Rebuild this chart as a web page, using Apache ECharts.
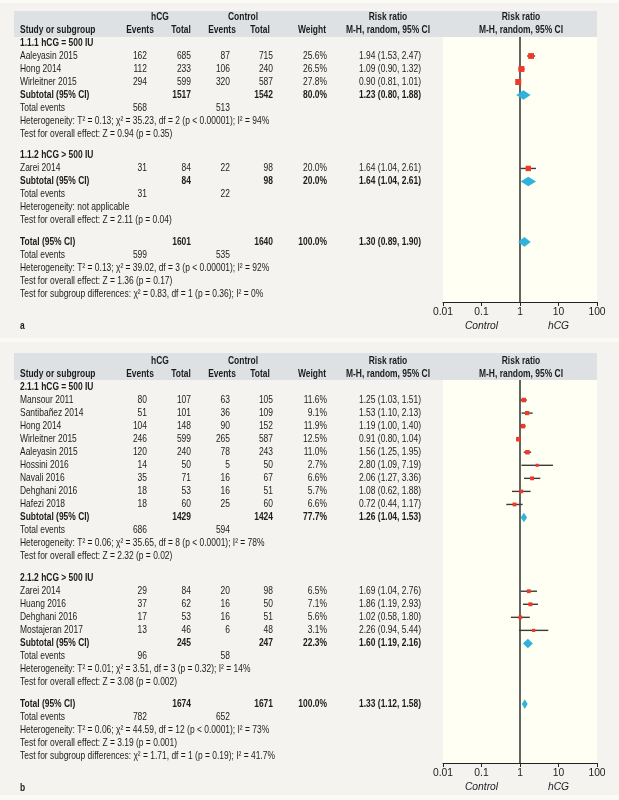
<!DOCTYPE html>
<html>
<head>
<meta charset="utf-8">
<script src="https://cdn.jsdelivr.net/npm/echarts@6/dist/echarts.min.js"></script>
<style>
html,body{margin:0;padding:0;background:#fbfbf6;}
#chart{width:619px;height:800px;}
</style>
</head>
<body>
<div id="chart"></div>
<script>
// ---------------- Panel a data ----------------
const aSubgroups = ['1.1.1 hCG = 500 IU', '1.1.2 hCG > 500 IU'];
const aStudies = ['Aaleyasin 2015', 'Hong 2014', 'Wirleitner 2015', 'Zarei 2014'];
const aStudyGroup = [0, 0, 0, 1];
const aHcgEvents = [162, 112, 294, 31];
const aHcgTotal = [685, 233, 599, 84];
const aCtlEvents = [87, 106, 320, 22];
const aCtlTotal = [715, 240, 587, 98];
const aWeight = [25.6, 26.5, 27.8, 20.0];
const aRR = [1.94, 1.09, 0.90, 1.64];
const aLower = [1.53, 0.90, 0.81, 1.04];
const aUpper = [2.47, 1.32, 1.01, 2.61];
const aSubHcgTotal = [1517, 84];
const aSubCtlTotal = [1542, 98];
const aSubHcgEvents = [568, 31];
const aSubCtlEvents = [513, 22];
const aSubWeight = [80.0, 20.0];
const aSubRR = [1.23, 1.64];
const aSubLower = [0.80, 1.04];
const aSubUpper = [1.88, 2.61];
const aSubHet = ['Heterogeneity: T² = 0.13; χ² = 35.23, df = 2 (p < 0.00001); I² = 94%', 'Heterogeneity: not applicable'];
const aSubTest = ['Test for overall effect: Z = 0.94 (p = 0.35)', 'Test for overall effect: Z = 2.11 (p = 0.04)'];
const aTotalN = [1601, 1640];
const aTotalEvents = [599, 535];
const aTotalWeight = 100.0;
const aTotalRR = [1.30, 0.89, 1.90];
const aTotalNotes = ['Heterogeneity: T² = 0.13; χ² = 39.02, df = 3 (p < 0.00001); I² = 92%', 'Test for overall effect: Z = 1.36 (p = 0.17)', 'Test for subgroup differences: χ² = 0.83, df = 1 (p = 0.36); I² = 0%'];

// ---------------- Panel b data ----------------
const bSubgroups = ['2.1.1 hCG = 500 IU', '2.1.2 hCG > 500 IU'];
const bStudies = ['Mansour 2011', 'Santibañez 2014', 'Hong 2014', 'Wirleitner 2015', 'Aaleyasin 2015', 'Hossini 2016', 'Navali 2016', 'Dehghani 2016', 'Hafezi 2018', 'Zarei 2014', 'Huang 2016', 'Dehghani 2016', 'Mostajeran 2017'];
const bStudyGroup = [0, 0, 0, 0, 0, 0, 0, 0, 0, 1, 1, 1, 1];
const bHcgEvents = [80, 51, 104, 246, 120, 14, 35, 18, 18, 29, 37, 17, 13];
const bHcgTotal = [107, 101, 148, 599, 240, 50, 71, 53, 60, 84, 62, 53, 46];
const bCtlEvents = [63, 36, 90, 265, 78, 5, 16, 16, 25, 20, 16, 16, 6];
const bCtlTotal = [105, 109, 152, 587, 243, 50, 67, 51, 60, 98, 50, 51, 48];
const bWeight = [11.6, 9.1, 11.9, 12.5, 11.0, 2.7, 6.6, 5.7, 6.6, 6.5, 7.1, 5.6, 3.1];
const bRR = [1.25, 1.53, 1.19, 0.91, 1.56, 2.80, 2.06, 1.08, 0.72, 1.69, 1.86, 1.02, 2.26];
const bLower = [1.03, 1.10, 1.00, 0.80, 1.25, 1.09, 1.27, 0.62, 0.44, 1.04, 1.19, 0.58, 0.94];
const bUpper = [1.51, 2.13, 1.40, 1.04, 1.95, 7.19, 3.36, 1.88, 1.17, 2.76, 2.93, 1.80, 5.44];
const bSubHcgTotal = [1429, 245];
const bSubCtlTotal = [1424, 247];
const bSubHcgEvents = [686, 96];
const bSubCtlEvents = [594, 58];
const bSubWeight = [77.7, 22.3];
const bSubRR = [1.26, 1.60];
const bSubLower = [1.04, 1.19];
const bSubUpper = [1.53, 2.16];
const bSubHet = ['Heterogeneity: T² = 0.06; χ² = 35.65, df = 8 (p < 0.0001); I² = 78%', 'Heterogeneity: T² = 0.01; χ² = 3.51, df = 3 (p = 0.32); I² = 14%'];
const bSubTest = ['Test for overall effect: Z = 2.32 (p = 0.02)', 'Test for overall effect: Z = 3.08 (p = 0.002)'];
const bTotalN = [1674, 1671];
const bTotalEvents = [782, 652];
const bTotalWeight = 100.0;
const bTotalRR = [1.33, 1.12, 1.58];
const bTotalNotes = ['Heterogeneity: T² = 0.06; χ² = 44.59, df = 12 (p < 0.0001); I² = 73%', 'Test for overall effect: Z = 3.19 (p = 0.001)', 'Test for subgroup differences: χ² = 1.71, df = 1 (p = 0.19); I² = 41.7%'];

// Axis tick labels
const xTickValues = [0.01, 0.1, 1, 10, 100];
const xTickLabels = ['0.01', '0.1', '1', '10', '100'];
const favourLeft = 'Control';
const favourRight = 'hCG';

// ---------------- Layout & style ----------------
const FONT = '"Liberation Sans", "Noto Sans", sans-serif';
const FS = 10.3;
const SCALE_X = 0.82;
const TXT = '#1c1c1c';
const COL = {name: 20, hcgE: 147, hcgT: 191, ctlE: 230, ctlT: 273, weight: 327, rr: 421,
  hHcgE: 140, hHcgT: 181, hCtlE: 222, hCtlT: 260, hWeight: 312, hRR: 388, hPlot: 521, hHcg: 160, hCtl: 243};
const GAP = 0.65;

const fmtW = w => w.toFixed(1) + '%';
const fmtRR = (e, l, h) => `${e.toFixed(2)} (${l.toFixed(2)}, ${h.toFixed(2)})`;

function buildPanel(P) {
  const texts = [], marks = [];
  const T = (x, y, text, align, bold) => texts.push({x, y, text: String(text), align, bold: !!bold});
  // header
  T(COL.hHcg, -2, 'hCG', 'center', 1);
  T(COL.hCtl, -2, 'Control', 'center', 1);
  T(COL.hRR, -2, 'Risk ratio', 'center', 1);
  T(COL.hPlot, -2, 'Risk ratio', 'center', 1);
  T(COL.name, -1, 'Study or subgroup', 'left', 1);
  T(COL.hHcgE, -1, 'Events', 'center', 1);
  T(COL.hHcgT, -1, 'Total', 'center', 1);
  T(COL.hCtlE, -1, 'Events', 'center', 1);
  T(COL.hCtlT, -1, 'Total', 'center', 1);
  T(COL.hWeight, -1, 'Weight', 'center', 1);
  T(COL.hRR, -1, 'M-H, random, 95% CI', 'center', 1);
  T(COL.hPlot, -1, 'M-H, random, 95% CI', 'center', 1);
  let r = 0;
  P.subgroups.forEach((sg, g) => {
    T(COL.name, r, sg, 'left', 1); r++;
    P.studies.forEach((s, i) => {
      if (P.group[i] !== g) return;
      T(COL.name, r, s, 'left');
      T(COL.hcgE, r, P.hcgE[i], 'right');
      T(COL.hcgT, r, P.hcgT[i], 'right');
      T(COL.ctlE, r, P.ctlE[i], 'right');
      T(COL.ctlT, r, P.ctlT[i], 'right');
      T(COL.weight, r, fmtW(P.w[i]), 'right');
      T(COL.rr, r, fmtRR(P.rr[i], P.lo[i], P.hi[i]), 'right');
      marks.push({kind: 'study', est: P.rr[i], lo: P.lo[i], hi: P.hi[i], w: P.w[i], y: r});
      r++;
    });
    T(COL.name, r, 'Subtotal (95% CI)', 'left', 1);
    T(COL.hcgT, r, P.subHcgT[g], 'right', 1);
    T(COL.ctlT, r, P.subCtlT[g], 'right', 1);
    T(COL.weight, r, fmtW(P.subW[g]), 'right', 1);
    T(COL.rr, r, fmtRR(P.subRR[g], P.subLo[g], P.subHi[g]), 'right', 1);
    marks.push({kind: 'diamond', est: P.subRR[g], lo: P.subLo[g], hi: P.subHi[g], y: r});
    r++;
    T(COL.name, r, 'Total events', 'left');
    T(COL.hcgE, r, P.subHcgE[g], 'right');
    T(COL.ctlE, r, P.subCtlE[g], 'right');
    r++;
    T(COL.name, r, P.subHet[g], 'left'); r++;
    T(COL.name, r, P.subTest[g], 'left'); r++;
    r += GAP;
  });
  T(COL.name, r, 'Total (95% CI)', 'left', 1);
  T(COL.hcgT, r, P.totN[0], 'right', 1);
  T(COL.ctlT, r, P.totN[1], 'right', 1);
  T(COL.weight, r, fmtW(P.totW), 'right', 1);
  T(COL.rr, r, fmtRR(P.totRR[0], P.totRR[1], P.totRR[2]), 'right', 1);
  marks.push({kind: 'diamond', est: P.totRR[0], lo: P.totRR[1], hi: P.totRR[2], y: r});
  r++;
  T(COL.name, r, 'Total events', 'left');
  T(COL.hcgE, r, P.totE[0], 'right');
  T(COL.ctlE, r, P.totE[1], 'right');
  r++;
  P.totNotes.forEach(n => { T(COL.name, r, n, 'left'); r++; });
  T(COL.name, r - 1 + 2.45, P.label, 'left', 1);
  return {texts, marks};
}

const panelA = buildPanel({subgroups: aSubgroups, studies: aStudies, group: aStudyGroup, hcgE: aHcgEvents, hcgT: aHcgTotal,
  ctlE: aCtlEvents, ctlT: aCtlTotal, w: aWeight, rr: aRR, lo: aLower, hi: aUpper, subHcgT: aSubHcgTotal, subCtlT: aSubCtlTotal,
  subHcgE: aSubHcgEvents, subCtlE: aSubCtlEvents, subW: aSubWeight, subRR: aSubRR, subLo: aSubLower, subHi: aSubUpper,
  subHet: aSubHet, subTest: aSubTest, totN: aTotalN, totE: aTotalEvents, totW: aTotalWeight, totRR: aTotalRR, totNotes: aTotalNotes, label: 'a'});
const panelB = buildPanel({subgroups: bSubgroups, studies: bStudies, group: bStudyGroup, hcgE: bHcgEvents, hcgT: bHcgTotal,
  ctlE: bCtlEvents, ctlT: bCtlTotal, w: bWeight, rr: bRR, lo: bLower, hi: bUpper, subHcgT: bSubHcgTotal, subCtlT: bSubCtlTotal,
  subHcgE: bSubHcgEvents, subCtlE: bSubCtlEvents, subW: bSubWeight, subRR: bSubRR, subLo: bSubLower, subHi: bSubUpper,
  subHet: bSubHet, subTest: bSubTest, totN: bTotalN, totE: bTotalEvents, totW: bTotalWeight, totRR: bTotalRR, totNotes: bTotalNotes, label: 'b'});

// pixel layout of panels: row 0 pixel and row step
const H = 800;
const LAY = [
  {y0: 43, step: 13.0, panelTop: 3, panelBot: 338, hdrTop: 11, hdrBot: 37, plotBot: 302},
  {y0: 387, step: 13.05, panelTop: 342, panelBot: 795, hdrTop: 353, hdrBot: 380, plotBot: 763}
];
const PLOT_L = 443, PLOT_R = 597;

const grids = [], xAxes = [], yAxes = [], series = [], graphics = [];
[panelA, panelB].forEach((P, k) => {
  const L = LAY[k];
  const toRow = px => (px - L.y0) / L.step;
  const gT = grids.length, gF = gT + 1;
  grids.push({left: 0, right: 0, top: L.panelTop, bottom: H - L.panelBot});
  grids.push({left: PLOT_L, right: 619 - PLOT_R, top: L.hdrBot, bottom: H - L.plotBot, show: true, backgroundColor: '#fffff3', borderWidth: 0});
  xAxes.push({gridIndex: gT, type: 'value', min: 0, max: 619, show: false});
  yAxes.push({gridIndex: gT, type: 'value', inverse: true, min: toRow(L.panelTop), max: toRow(L.panelBot), show: false});
  xAxes.push({gridIndex: gF, type: 'log', logBase: 10, min: 0.01, max: 100, position: 'bottom',
    axisLine: {show: true, onZero: false, lineStyle: {color: '#222', width: 1}},
    axisTick: {show: true, length: 4, inside: false, lineStyle: {color: '#222', width: 1}},
    splitLine: {show: false}, minorTick: {show: false},
    axisLabel: {show: true, margin: 4, color: TXT, fontFamily: FONT, fontSize: FS, lineHeight: 13,
      formatter: v => {
        let i = xTickValues.findIndex(t => Math.abs(Math.log10(t) - Math.log10(v)) < 1e-6);
        if (i < 0) return '';
        let s = xTickLabels[i];
        if (i === 1) s += '\n{it|' + favourLeft + '}';
        if (i === 3) s += '\n{it|' + favourRight + '}';
        return s;
      },
      rich: {it: {fontStyle: 'italic', fontFamily: FONT, fontSize: FS, color: TXT, lineHeight: 14}}}
  });
  const fMin = toRow(L.hdrBot), fMax = toRow(L.plotBot);
  yAxes.push({gridIndex: gF, type: 'value', inverse: true, min: fMin, max: fMax, show: false});
  const xT = xAxes.length - 2, xF = xAxes.length - 1, yT = yAxes.length - 2, yF = yAxes.length - 1;

  // table text
  const texts = P.texts;
  series.push({type: 'custom', xAxisIndex: xT, yAxisIndex: yT, z: 5, silent: true,
    data: texts.map(t => [t.x, t.y]),
    renderItem: (params, api) => {
      const t = texts[params.dataIndex];
      const c = api.coord([t.x, t.y]);
      return {type: 'text', x: c[0], y: c[1], scaleX: SCALE_X, style: {text: t.text, fill: TXT,
        fontFamily: FONT, fontSize: FS, fontWeight: t.bold ? 'bold' : 'normal',
        align: t.align, textAlign: t.align, verticalAlign: 'middle', textVerticalAlign: 'middle'}};
    }});
  // vertical line of no effect
  series.push({type: 'line', xAxisIndex: xF, yAxisIndex: yF, z: 2, silent: true, showSymbol: false, symbol: 'none',
    data: [[1, fMin], [1, fMax]], lineStyle: {color: '#222', width: 1.4}});
  // forest marks
  const marks = P.marks;
  series.push({type: 'custom', xAxisIndex: xF, yAxisIndex: yF, z: 4, silent: true,
    data: marks.map(m => [m.est, m.y]),
    renderItem: (params, api) => {
      const m = marks[params.dataIndex];
      const c = api.coord([m.est, m.y]);
      const l = api.coord([m.lo, m.y]);
      const h = api.coord([m.hi, m.y]);
      if (m.kind === 'study') {
        const s = 1.8 + 0.8 * Math.sqrt(m.w);
        return {type: 'group', children: [
          {type: 'line', shape: {x1: l[0], y1: c[1], x2: h[0], y2: c[1]}, style: {stroke: '#3c3c3c', lineWidth: 1.4}},
          {type: 'rect', shape: {x: c[0] - s / 2, y: c[1] - s / 2, width: s, height: s}, style: {fill: '#ef3a2b'}}
        ]};
      }
      const hh = 4.8;
      return {type: 'polygon', shape: {points: [[l[0], c[1]], [c[0], c[1] - hh], [h[0], c[1]], [c[0], c[1] + hh]]},
        style: {fill: '#2fb3dd'}};
    }});

  graphics.push({type: 'rect', z: -20, shape: {x: 0, y: L.panelTop, width: 619, height: L.panelBot - L.panelTop}, style: {fill: '#f4f3f0'}});
  graphics.push({type: 'rect', z: -10, shape: {x: 14, y: L.hdrTop, width: PLOT_R - 14, height: L.hdrBot - L.hdrTop}, style: {fill: '#dde1e3'}});
});

const chart = echarts.init(document.getElementById('chart'), null, {renderer: 'canvas'});
chart.setOption({
  animation: false,
  backgroundColor: 'transparent',
  graphic: graphics,
  grid: grids,
  xAxis: xAxes,
  yAxis: yAxes,
  series: series
});
</script>
</body>
</html>
